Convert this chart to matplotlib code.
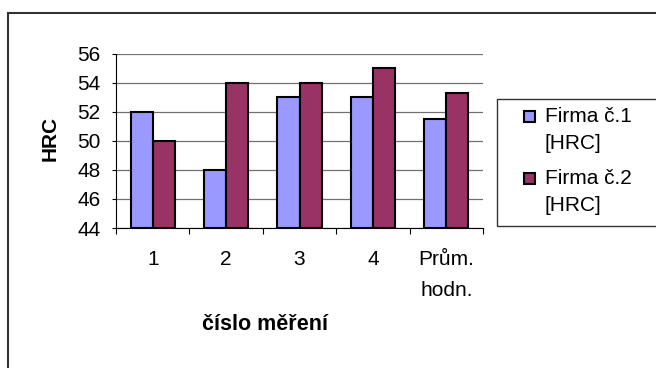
import numpy as np
import matplotlib
matplotlib.use("Agg")
import matplotlib.pyplot as plt
from matplotlib.patches import Rectangle

plt.rcParams['font.family'] = ['Liberation Sans', 'DejaVu Sans']

# data
categories = ['1', '2', '3', '4', 'Prům.\nhodn.']
firma1 = [52, 48, 53, 53, 51.5]
firma2 = [50, 54, 54, 55, 53.25]
series_names = ['Firma č.1\n[HRC]', 'Firma č.2\n[HRC]']
colors = ['#9999FF', '#993366']
y_ticks = [44, 46, 48, 50, 52, 54, 56]

W, H = 656, 368
fs = 15
fig = plt.figure(figsize=(W / 100, H / 100), dpi=100)

# outer chart frame (cut off at right and bottom like the reference)
fig.patches.append(Rectangle((8 / W, -0.1), 1.2, 1 - 13 / H + 0.1, transform=fig.transFigure,
                             fill=False, edgecolor='#333333', linewidth=1.5))

ax = fig.add_axes([116 / W, 1 - 228 / H, (483 - 116) / W, (228 - 53.5) / H])

x = np.arange(len(categories))
bw = 0.3
for i, vals in enumerate([firma1, firma2]):
    ax.bar(x - bw / 2 + i * bw, np.array(vals) - 44, bw, bottom=44, color=colors[i],
           edgecolor='black', linewidth=1.5, zorder=3)

ax.set_xlim(-0.5, len(categories) - 0.5)
ax.set_ylim(44, 56)
ax.set_yticks(y_ticks)
ax.yaxis.grid(True, color='#707070', linewidth=0.9, zorder=0)
ax.tick_params(axis='y', labelsize=fs, length=3, width=0.8, pad=8)

ax.set_xticks(x)
ax.set_xticklabels(categories, fontsize=fs, linespacing=1.8)
ax.set_xticks(np.arange(-0.5, len(categories)), minor=True)
ax.tick_params(axis='x', which='major', length=0, pad=16)
ax.tick_params(axis='x', which='minor', length=4, width=0.8)

for s in ['top', 'right']:
    ax.spines[s].set_visible(False)
ax.spines['left'].set_linewidth(0.8)
ax.spines['bottom'].set_linewidth(0.8)

fig.text(50 / W, 1 - 138 / H, 'HRC', rotation=90, fontsize=fs, fontweight='bold',
         ha='center', va='center')
fig.text(265 / W, 1 - 325 / H, 'číslo měření', fontsize=fs + 0.5, fontweight='bold',
         ha='center', va='center')

# legend box drawn by hand
fig.patches.append(Rectangle((497 / W, 1 - 226 / H), (660 - 497) / W, (226 - 99) / H,
                             transform=fig.transFigure, fill=True, facecolor='white',
                             edgecolor='#333333', linewidth=1))
for i, name in enumerate(series_names):
    yc = 116 + i * 62
    fig.patches.append(Rectangle((524 / W, 1 - (yc + 5.5) / H), 11 / W, 11 / H,
                                 transform=fig.transFigure, facecolor=colors[i],
                                 edgecolor='black', linewidth=1.5))
    fig.text(545 / W, 1 - (yc + 14) / H, name, fontsize=fs, ha='left', va='center',
             linespacing=1.5)

fig.savefig('out.png', dpi=100)
